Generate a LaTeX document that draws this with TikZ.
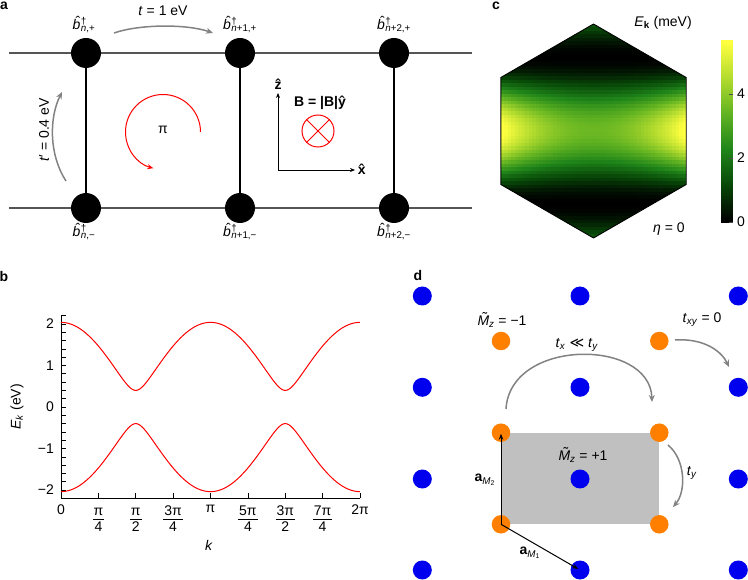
\documentclass[tikz,border=0pt]{standalone}
\usepackage{fontspec}
\setmainfont{Liberation Sans}
\newfontfamily\dejavu{DejaVu Sans}
\usetikzlibrary{arrows.meta}

\definecolor{cm0}{rgb}{0,0,0}
\definecolor{cm1}{rgb}{0.03,0.28,0.03}
\definecolor{cm2}{rgb}{0.12,0.52,0.10}
\definecolor{cm3}{rgb}{0.38,0.70,0.13}
\definecolor{cm4}{rgb}{0.70,0.86,0.18}
\definecolor{cm5}{rgb}{1,1,0.25}
\definecolor{hopgray}{RGB}{130,130,130}
\definecolor{linegray}{RGB}{85,85,85}
\definecolor{rectgray}{RGB}{192,192,192}
\definecolor{dotblue}{RGB}{0,0,238}
\definecolor{dotorange}{RGB}{255,128,0}

\newcommand\cmapcolor[1]{%
  \pgfmathsetmacro\cmS{max(0,min(4.999,(#1)/1.12))}%
  \pgfmathtruncatemacro\cmI{\cmS}%
  \pgfmathtruncatemacro\cmJ{\cmI+1}%
  \pgfmathsetmacro\cmP{100*(1-(\cmS-\cmI))}%
  \colorlet{cc}{cm\cmI!\cmP!cm\cmJ}%
}
\newcommand\hatb{\ooalign{\textit{b}\cr\hidewidth\kern3pt\raisebox{2.9pt}{ˆ}\hidewidth\cr}}
\newcommand\tildeM{\ooalign{\textit{M}\cr\hidewidth\kern3pt\raisebox{3pt}{˜}\hidewidth\cr}}
\newcommand\bdag[1]{\hatb\kern0.5pt\rlap{\textsuperscript{†}}\textsubscript{#1}}
\newcommand\frc[2]{\begin{tabular}{@{\hspace{1pt}}c@{\hspace{1pt}}}#1\\[-1pt]\hline\rule{0pt}{12pt}#2\end{tabular}}

\begin{document}
\begin{tikzpicture}[x=1pt,y=-1pt,
  every node/.style={font=\fontsize{14}{16}\selectfont, inner sep=0pt},
  lbl/.style={font=\fontsize{14}{16}\selectfont\bfseries},
  site/.style={circle, fill=black, minimum size=30pt, inner sep=0pt},
  hop/.style={draw=hopgray, line width=1.5pt, -{Stealth[length=7pt,width=6pt]}},
  vec/.style={draw=black, line width=1pt, -{Stealth[length=6pt,width=4.5pt]}},
  bdot/.style={circle, fill=dotblue, minimum size=19pt, inner sep=0pt},
  odot/.style={circle, fill=dotorange, minimum size=18.5pt, inner sep=0pt},
  axline/.style={draw=black, line width=0.8pt}
]
\useasboundingbox (0,0) rectangle (748,580);

% ---------------- panel a ----------------
\node[lbl] (la) at (4,6) {a};
\coordinate (hl1) at (9,53);  \coordinate (hr1) at (472,53);
\coordinate (hl2) at (9,208); \coordinate (hr2) at (472,208);
\draw[linegray, line width=1.2pt] (hl1) -- (hr1);
\draw[linegray, line width=1.2pt] (hl2) -- (hr2);
\foreach \n/\x in {1/86,2/240,3/394} {
  \node[site] (t\n) at (\x,53) {};
  \node[site] (b\n) at (\x,208) {};
  \draw[black, line width=1.2pt] (t\n) -- (b\n);
}
\node (lt1) at (84,25) {\bdag{\textit{n},+}};
\node (lt2) at (240,25) {\bdag{\textit{n}+1,+}};
\node (lt3) at (394,25) {\bdag{\textit{n}+2,+}};
\node (lb1) at (84,232) {\bdag{\textit{n},−}};
\node (lb2) at (240,232) {\bdag{\textit{n}+1,−}};
\node (lb3) at (394,232) {\bdag{\textit{n}+2,−}};

\coordinate (ts) at (114,33); \coordinate (te) at (213,33);
\draw[hop] (ts) .. controls (140,24) and (187,24) .. (te);
\node (tl) at (163,11) {\textit{t} = 1 eV};
\coordinate (ps) at (66,181); \coordinate (pe) at (62,92);
\draw[hop] (ps) .. controls (49,155) and (49,118) .. (pe);
\node[rotate=90] (pl) at (44,130) {\textit{t}′ = 0.4 eV};

\coordinate (arcs) at (200.5,132);
\draw[red, line width=1pt, -{Stealth[length=6pt,width=5pt]}] (arcs) arc[start angle=0, end angle=-255, radius=37.5];
\node (pi) at (163,130) {π};

\coordinate (ax0) at (278,170); \coordinate (axz) at (278,93); \coordinate (axx) at (355,170);
\draw[axline, -{Stealth[length=5pt,width=4pt]}] (ax0) -- (axz);
\draw[axline, -{Stealth[length=5pt,width=4pt]}] (ax0) -- (axx);
\node (zl) at (278,84) {\textbf{\^{z}}};
\node (xl) at (363,169) {\textbf{\^{x}}};
\node (Bl) at (320,103) {\textbf{B = |B|\^{y}}};
\node[circle, draw=red, line width=1pt, minimum size=32pt] (bx) at (318,131) {};
\draw[red, line width=1pt] (bx.north west) -- (bx.south east);
\draw[red, line width=1pt] (bx.north east) -- (bx.south west);

% ---------------- panel c ----------------
\node[lbl] (lc) at (496,6) {c};
\begin{scope}
\clip (593.5,24) -- (686.2,77.5) -- (686.2,184.5) -- (593.5,238) -- (500.8,184.5) -- (500.8,77.5) -- cycle;
\foreach \i in {0,...,53} {
  \foreach \j in {0,...,61} {
    \pgfmathsetmacro\cx{500.8+3.5*\i}
    \pgfmathsetmacro\cy{24+3.5*\j}
    \pgfmathsetmacro\uu{(\cx+1.75-593.5)/92.7}
    \pgfmathsetmacro\vv{(\cy+1.75-131)/107}
    \pgfmathsetmacro\EE{(3.5+2.3*\uu*\uu)*cos(130.6*\vv)^2}
    \cmapcolor{\EE}
    \fill[cc] (\cx,\cy) rectangle ++(3.9,3.9);
  }
}
\end{scope}
\draw[black, line width=0.9pt, line join=round] (593.5,24) -- (686.2,77.5) -- (686.2,184.5) -- (593.5,238) -- (500.8,184.5) -- (500.8,77.5) -- cycle;
\node (Ek) at (663,23) {\textit{E}\textsubscript{\textbf{k}} (meV)};
\node (eta) at (669,229) {\textit{η} = 0};
\foreach \k in {0,...,121} {
  \pgfmathsetmacro\yy{223-1.5*\k}
  \pgfmathsetmacro\EE{(222-\yy+0.75)/32}
  \cmapcolor{\EE}
  \fill[cc] (721,\yy) rectangle (733,\yy-1.8);
}
\foreach \v/\yv in {0/222,2/158,4/94} {
  \draw[black!70, line width=0.7pt] (729,\yv) -- (733,\yv);
  \node[anchor=west] at (737,\yv) {\v};
}

% ---------------- panel b ----------------
\node[lbl] (lb) at (4,276) {b};
\coordinate (yt) at (61,315.7); \coordinate (org) at (61,498.3); \coordinate (xr) at (360,498.3);
\draw[black, line width=0.8pt] (yt) -- (org) -- (xr);
\foreach \m in {-11,...,11} {
  \draw[black, line width=0.6pt] (61,{407-8.3*\m}) -- (66,{407-8.3*\m});
}
\foreach \q in {1,...,8} {
  \draw[black, line width=0.6pt] ({61+37.375*\q},498.3) -- ({61+37.375*\q},493.3);
}
\foreach \v/\t in {2/2,1/1,0/0,-1/−1,-2/−2} {
  \node[anchor=east] at (54,{407-41.5*\v}) {\t};
}
\node[anchor=north] at (61,505) {0};
\node[anchor=north] at (98.4,504) {\frc{π}{4}};
\node[anchor=north] at (135.75,504) {\frc{π}{2}};
\node[anchor=north] at (173.1,504) {\frc{3π}{4}};
\node[anchor=north] at (210.5,505) {π};
\node[anchor=north] at (247.9,504) {\frc{5π}{4}};
\node[anchor=north] at (285.25,504) {\frc{3π}{2}};
\node[anchor=north] at (322.6,504) {\frc{7π}{4}};
\node[anchor=north] at (360,505) {2π};
\node (kl) at (209,545) {\textit{k}};
\node[rotate=90] (Ekl) at (17,407) {\textit{E}\textsubscript{\textit{k}} (eV)};
\draw[red, line width=1pt] plot[domain=0:6.2832, samples=160, smooth] ({61+47.59*\x}, {407-41.5*sqrt(4*cos(\x r)^2+0.16)});
\draw[red, line width=1pt] plot[domain=0:6.2832, samples=160, smooth] ({61+47.59*\x}, {407+41.5*sqrt(4*cos(\x r)^2+0.16)});

% ---------------- panel d ----------------
\node[lbl] (ld) at (418,275) {d};
\fill[rectgray] (501,432.7) rectangle (659.3,524.3);
\foreach \i/\x in {1/422.3,2/580,3/738.3} {
  \foreach \j/\y in {1/296,2/387.3,3/479,4/570} {
    \node[bdot] (bl\i\j) at (\x,\y) {};
  }
}
\foreach \i/\x in {1/501,2/659.3} {
  \foreach \j/\y in {1/341,2/432.7,3/524.3} {
    \node[odot] (or\i\j) at (\x,\y) {};
  }
}
\draw[vec, shorten >=1pt] (or13.center) -- (or12.center);
\draw[vec, shorten >=2pt] (or13.center) -- (bl24.center);
\coordinate (h1s) at (506,409); \coordinate (h1e) at (652,402);
\draw[hop] (h1s) .. controls (510,338) and (650,338) .. (h1e);
\coordinate (h2s) at (675,340); \coordinate (h2e) at (729,367);
\draw[hop] (h2s) .. controls (705,338) and (722,352) .. (h2e);
\coordinate (h3s) at (668,445); \coordinate (h3e) at (673,507);
\draw[hop] (h3s) .. controls (686,460) and (686,492) .. (h3e);
\node (mm) at (502,322) {\tildeM\textsubscript{\textit{z}} = −1};
\node (txy) at (702,320) {\textit{t}\textsubscript{\textit{xy}} = 0};
\node (txty) at (577,345) {\textit{t}\textsubscript{\textit{x}} {\dejavu ≪} \textit{t}\textsubscript{\textit{y}}};
\node (mp) at (583,457) {\tildeM\textsubscript{\textit{z}} = +1};
\node (ty) at (692,473) {\textit{t}\textsubscript{\textit{y}}};
\node (am2) at (485,480) {\textbf{a}\textsubscript{\textit{M}\textsubscript{2}}};
\node (am1) at (530,553) {\textbf{a}\textsubscript{\textit{M}\textsubscript{1}}};
\end{tikzpicture}
\end{document}
